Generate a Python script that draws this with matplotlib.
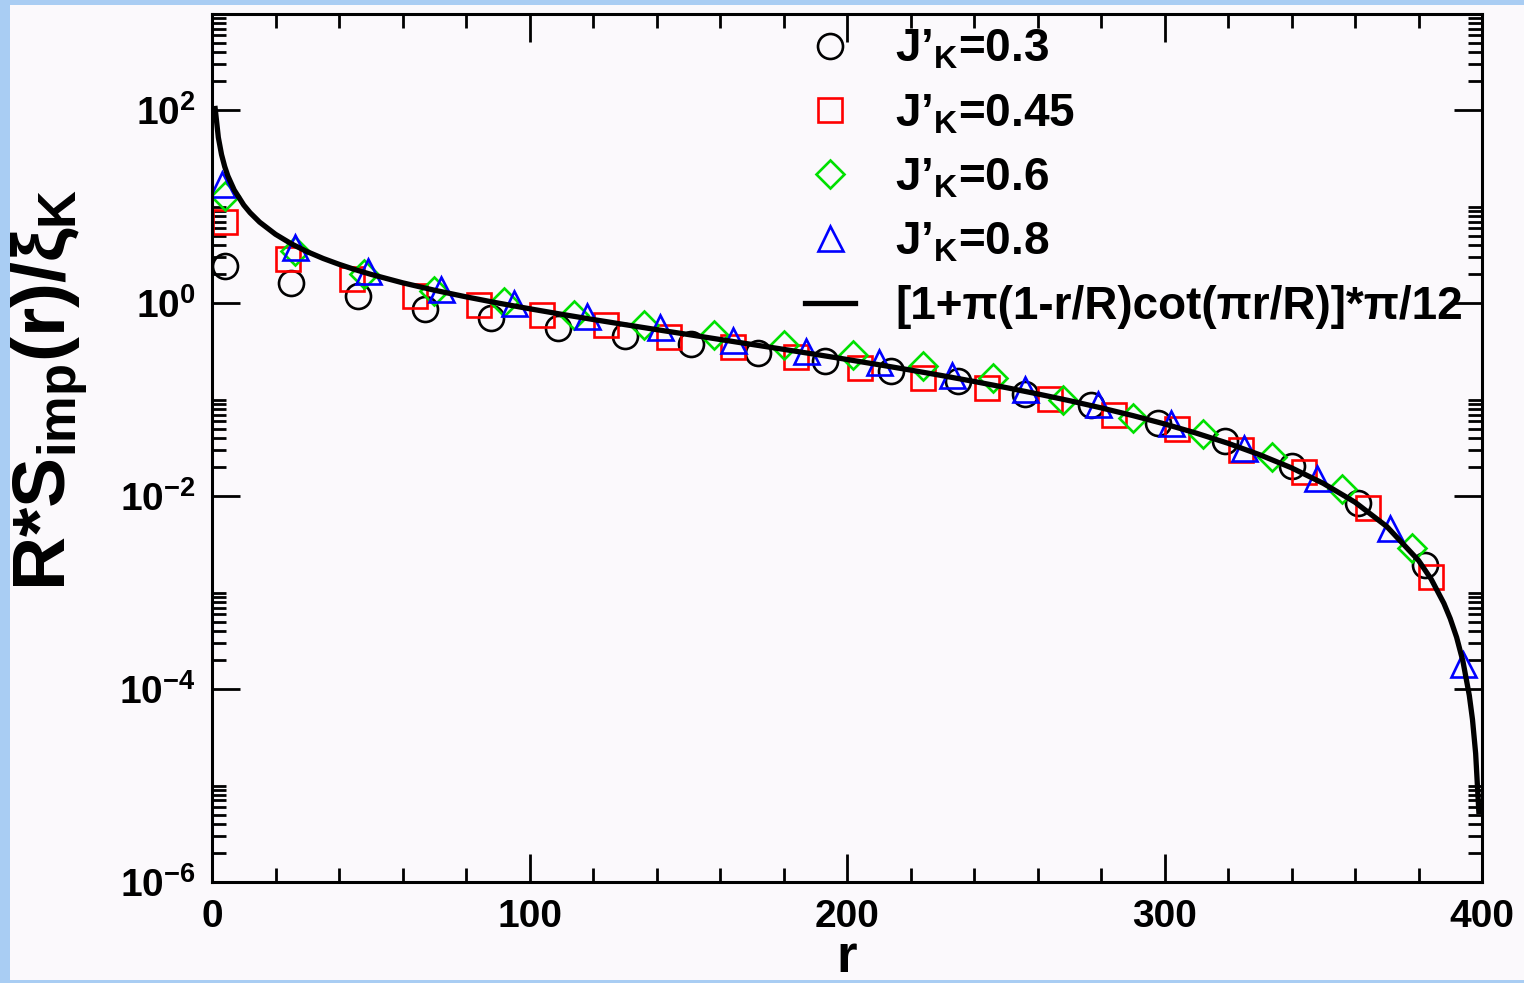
import numpy as np
import matplotlib.pyplot as plt
from matplotlib.patches import Rectangle
from matplotlib.ticker import FixedLocator, MultipleLocator, FuncFormatter, NullFormatter

plt.rcParams['font.family'] = ['Liberation Sans', 'DejaVu Sans']
plt.rcParams['font.weight'] = 'bold'
plt.rcParams['mathtext.fontset'] = 'custom'
plt.rcParams['mathtext.rm'] = 'Liberation Sans:bold'
plt.rcParams['mathtext.it'] = 'Liberation Sans:bold'
plt.rcParams['mathtext.bf'] = 'Liberation Sans:bold'
plt.rcParams['mathtext.sf'] = 'Liberation Sans:bold'

# ---- datos ----
r_c = [4, 25, 46, 67, 88, 109, 130, 151, 172, 193, 214, 235, 256, 277, 298, 319, 340, 361, 382]
s_c = [2.41, 1.61, 1.2, 0.87, 0.705, 0.56, 0.456, 0.375, 0.307, 0.252, 0.199, 0.157, 0.115,
       0.088, 0.0576, 0.0375, 0.0207, 0.0086, 0.00192]

r_s = [4, 24, 44, 64, 84, 104, 124, 144, 164, 184, 204, 224, 244, 264, 284, 304, 324, 344, 364, 384]
s_s = [7.0, 2.91, 1.77, 1.18, 0.97, 0.75, 0.59, 0.45, 0.35, 0.275, 0.215, 0.168, 0.131, 0.101,
       0.07, 0.05, 0.030, 0.0177, 0.0075, 0.00146]

r_d = [4, 26, 48, 70, 92, 114, 136, 158, 180, 202, 224, 246, 268, 290, 312, 334, 356, 378]
s_d = [13.0, 3.45, 2.0, 1.33, 1.03, 0.76, 0.6, 0.47, 0.37, 0.29, 0.225, 0.17, 0.1, 0.065,
       0.0443, 0.0255, 0.0118, 0.0029]

r_t = [3, 26, 49, 72, 95, 118, 141, 164, 187, 210, 233, 256, 279, 302, 325, 348, 371, 394]
s_t = [17.4, 3.88, 2.14, 1.4, 1.0, 0.74, 0.57, 0.42, 0.32, 0.245, 0.18, 0.13, 0.09, 0.057,
       0.032, 0.0155, 0.0047, 0.00018]

# curva teorica (leida)
r_th = [1, 2, 3, 4, 5, 7, 10, 12, 15, 20, 25, 30, 35, 40, 45, 50, 60, 70, 80, 90, 100, 110,
        120, 130, 140, 150, 160, 170, 180, 190, 200, 210, 220, 230, 240, 250, 260, 270, 280,
        290, 300, 310, 320, 330, 340, 350, 360, 370, 380, 384, 388, 390, 392, 394, 396, 397,
        398, 399]
s_th = [104.7, 52.4, 34.9, 26.2, 20.9, 14.95, 10.45, 8.70, 6.95, 5.20, 4.14, 3.43, 2.92, 2.54,
        2.24, 2.00, 1.634, 1.369, 1.168, 1.008, 0.879, 0.771, 0.680, 0.602, 0.534, 0.475,
        0.422, 0.375, 0.3335, 0.296, 0.2618, 0.231, 0.2032, 0.178, 0.1549, 0.134, 0.1151,
        0.098, 0.0825, 0.0686, 0.0562, 0.0451, 0.0354, 0.0269, 0.0197, 0.0136, 0.00867,
        0.00486, 0.00216, 0.00138, 0.000775, 0.000538, 0.000345, 0.000194, 8.61e-5, 4.85e-5,
        2.15e-5, 5.38e-6]

labels = ["J’$_{K}$=0.3", "J’$_{K}$=0.45", "J’$_{K}$=0.6", "J’$_{K}$=0.8",
          "[1+π(1-r/R)cot(πr/R)]*π/12"]

# ---- figura ----
fig = plt.figure(figsize=(15.24, 9.83), dpi=100, facecolor='#a9cdf3')
fig.add_artist(Rectangle((10/1524, 3/983), 1.0, 1 - 8/983, transform=fig.transFigure,
                         facecolor='#fbf9fc', edgecolor='none', zorder=0))
ax = fig.add_axes([212/1524, 1 - 882/983, 1270/1524, 868/983])
ax.set_facecolor('#fbf9fc')

mew = 1.9
ax.plot(r_c, s_c, 'o', ms=18, mfc='none', mec='black', mew=mew, label=labels[0])
ax.plot(r_s, s_s, 's', ms=17, mfc='none', mec='#ff0000', mew=mew, label=labels[1])
ax.plot(r_d, s_d, 'D', ms=14, mfc='none', mec='#00e000', mew=mew, label=labels[2])
ax.plot(r_t, s_t, '^', ms=18, mfc='none', mec='#0000ff', mew=mew, label=labels[3])
ax.plot(r_th, s_th, '-', color='black', lw=3.8, label=labels[4])

ax.set_yscale('log')
ax.set_xlim(0, 400)
ax.set_ylim(1e-6, 1e3)

ax.xaxis.set_major_locator(MultipleLocator(100))
ax.xaxis.set_minor_locator(MultipleLocator(20))
ax.yaxis.set_major_locator(FixedLocator([1e-6, 1e-4, 1e-2, 1e0, 1e2]))
minors = []
for k in [-6, -4, -2, 0, 2]:
    minors += [m * 10.0**k for m in range(2, 11)]
ax.yaxis.set_minor_locator(FixedLocator(minors))
ax.yaxis.set_minor_formatter(NullFormatter())
ax.yaxis.set_major_formatter(FuncFormatter(lambda v, p: r"$10^{%d}$" % round(np.log10(v))))

ax.tick_params(which='both', direction='in', top=True, right=True, width=2)
ax.tick_params(which='major', length=20, labelsize=28, pad=12)
ax.tick_params(which='minor', length=10)
for sp in ax.spines.values():
    sp.set_linewidth(2.2)

fig.text(50/1524, 1 - 390/983, "R*S$_{imp}$(r)/$\\xi_{K}$", rotation=90, ha='center',
         va='center', fontsize=54, fontweight='bold')
fig.text(847/1524, 0.5/983, "r", ha='center', va='bottom', fontsize=38, fontweight='bold')

ax.legend(loc='upper left', bbox_to_anchor=(0.467, 0.984), frameon=False, fontsize=33,
          handlelength=1.09, handletextpad=0.87, labelspacing=0.44, borderpad=0,
          borderaxespad=0, numpoints=1)

fig.savefig('out.png', dpi=100, facecolor=fig.get_facecolor())
